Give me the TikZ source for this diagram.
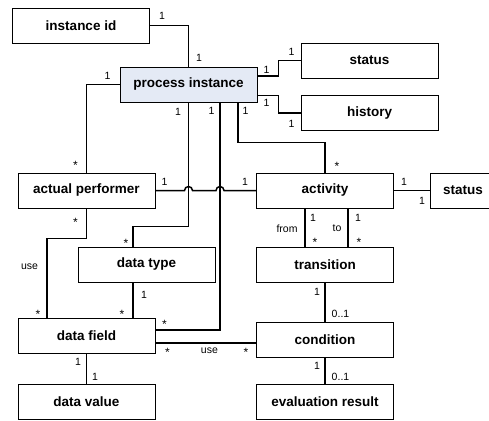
\documentclass[tikz,border=0pt]{standalone}
\usepackage{fontspec}
\setmainfont{Liberation Sans}
\usepackage{tikz}
\definecolor{pifill}{RGB}{228,234,245}
\tikzset{
  entity/.style={draw, line width=0.9pt, minimum width=137pt, minimum height=35pt,
    inner sep=0pt, font=\fontsize{13.5}{16}\selectfont\bfseries},
  conn/.style={line width=1.5pt},
  lab/.style={inner sep=0pt, font=\fontsize{10.5}{12}\selectfont},
  many/.style={lab, font=\fontsize{12}{12}\selectfont},
}

\begin{document}
\begin{tikzpicture}[x=1pt, y=-1pt]
    \useasboundingbox (0,0) rectangle (489,420);

    % classes
    \node[entity] (iid) at (81,25.5) {instance id};
    \node[entity, fill=pifill] (pi) at (188.5,84.5) {process instance};
    \node[entity] (pistat) at (369.5,60.5) {status};
    \node[entity] (hist) at (369.5,113) {history};
    \node[entity] (perf) at (86.5,190.5) {actual performer};
    \node[entity] (act) at (325,190.5) {activity};
    \node[entity, minimum width=66pt] (actstat) at (463,190.5) {status};
    \node[entity] (dtype) at (146.5,264.5) {data type};
    \node[entity] (trans) at (325,264.5) {transition};
    \node[entity] (field) at (86.5,335.5) {data field};
    \node[entity] (cond) at (325,340) {condition};
    \node[entity] (value) at (86.5,401.5) {data value};
    \node[entity] (result) at (325,401.5) {evaluation result};

    % helper points
    \coordinate (hopA) at (perf.east -| pi.south);
    \coordinate (hopB) at ([shift={(31.5,0)}]hopA);

    % process instance links
    \draw[conn] (iid.east) -| (pi.north);
    \node[lab] (iid1) at ([shift={(12,-9.5)}]iid.east) {1};
    \node[lab] (iid2) at ([shift={(10.5,-9)}]pi.north) {1};

    \draw[conn] (pi.west) -| (perf.north);
    \node[lab] (prf1) at ([shift={(-12,-8.5)}]pi.west) {1};
    \node[many] (prf2) at ([shift={(-11,-7.5)}]perf.north) {*};

    \draw[conn] ([shift={(0,-8.5)}]pi.east) -- ++(21,0) |- (pistat.west);
    \node[lab] (pst1) at ([shift={(9,-14.5)}]pi.east) {1};
    \node[lab] (pst2) at ([shift={(-9,-8.5)}]pistat.west) {1};

    \draw[conn] ([shift={(0,11)}]pi.east) -- ++(21,0) |- (hist.west);
    \node[lab] (hst1) at ([shift={(9,18.5)}]pi.east) {1};
    \node[lab] (hst2) at ([shift={(-9,11)}]hist.west) {1};

    \draw[conn] (pi.south) -- ++(0,124) -| ([shift={(-13.5,0)}]dtype.north);
    \node[lab] (dty1) at ([shift={(-10.5,9)}]pi.south) {1};
    \node[many] (dty2) at ([shift={(-20.5,-3.5)}]dtype.north) {*};

    \draw[conn] ([shift={(31.5,0)}]pi.south) |- ([shift={(0,-5.5)}]field.east);
    \node[lab] (fld1) at ([shift={(23,8)}]pi.south) {1};
    \node[many] (fld2) at ([shift={(9,-11)}]field.east) {*};

    \draw[conn] ([shift={(49.5,0)}]pi.south) -- ++(0,40) -| (act.north);
    \node[lab] (act1) at ([shift={(57,8.5)}]pi.south) {1};
    \node[many] (act2) at ([shift={(12,-6)}]act.north) {*};

    % performer and data links
    \draw[conn] (perf.east) -- ([shift={(-4,0)}]hopA)
      arc[start angle=180, end angle=0, radius=4pt] -- ([shift={(-4,0)}]hopB)
      arc[start angle=180, end angle=0, radius=4pt] -- (act.west);
    \node[lab] (pa1) at ([shift={(9,-8.5)}]perf.east) {1};
    \node[lab] (pa2) at ([shift={(-11,-8.5)}]act.west) {1};

    \draw[conn] (perf.south) -- ++(0,30) -| ([shift={(-39.5,0)}]field.north);
    \node[many] (pu1) at ([shift={(-11,13.5)}]perf.south) {*};
    \node[lab] (pu2) at ([shift={(-57,-51)}]field.north) {use};
    \node[many] (pu3) at ([shift={(-48.5,-3)}]field.north) {*};

    \draw[conn] ([shift={(-13.5,0)}]dtype.south) -- ([shift={(46.5,0)}]field.north);
    \node[lab] (tf1) at ([shift={(-2.5,12)}]dtype.south) {1};
    \node[many] (tf2) at ([shift={(35.5,-3)}]field.north) {*};

    \draw[conn] ([shift={(0,7.5)}]field.east) -- ([shift={(0,3)}]cond.west);
    \node[many] (fc1) at ([shift={(12,16.5)}]field.east) {*};
    \node[lab] (fc2) at ([shift={(54,15)}]field.east) {use};
    \node[many] (fc3) at ([shift={(-10,12)}]cond.west) {*};

    \draw[conn] (field.south) -- (value.north);
    \node[lab] (fv1) at ([shift={(-8.5,8)}]field.south) {1};
    \node[lab] (fv2) at ([shift={(8.5,-7)}]value.north) {1};

    % activity links
    \draw[conn] (act.east) -- (actstat.west);
    \node[lab] (as1) at ([shift={(10,-8.5)}]act.east) {1};
    \node[lab] (as2) at ([shift={(-7.5,10.5)}]actstat.west) {1};

    \draw[conn] ([shift={(-20,0)}]act.south) -- ([shift={(-20,0)}]trans.north);
    \node[lab] (fr1) at ([shift={(-12,9)}]act.south) {1};
    \node[lab] (fr2) at ([shift={(-38,20)}]act.south) {from};
    \node[many] (fr3) at ([shift={(-10,-4)}]trans.north) {*};

    \draw[conn] ([shift={(23,0)}]act.south) -- ([shift={(23,0)}]trans.north);
    \node[lab] (to1) at ([shift={(33,9)}]act.south) {1};
    \node[lab] (to2) at ([shift={(12,20)}]act.south) {to};
    \node[many] (to3) at ([shift={(34,-4)}]trans.north) {*};

    \draw[conn] (trans.south) -- (cond.north);
    \node[lab] (tc1) at ([shift={(-8,9)}]trans.south) {1};
    \node[lab] (tc2) at ([shift={(15.5,-8)}]cond.north) {0..1};

    \draw[conn] (cond.south) -- (result.north);
    \node[lab] (cr1) at ([shift={(-8,8)}]cond.south) {1};
    \node[lab] (cr2) at ([shift={(15.5,-7)}]result.north) {0..1};
\end{tikzpicture}
\end{document}
